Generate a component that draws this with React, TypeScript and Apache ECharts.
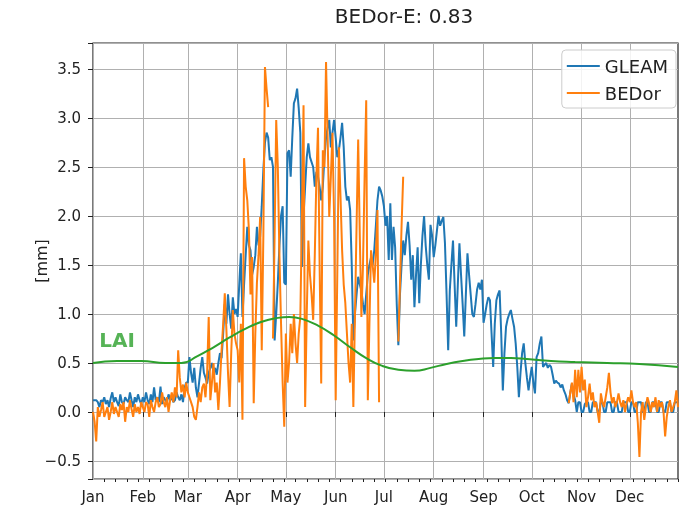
import React, { useEffect, useRef } from "react";
import * as echarts from "echarts";

const monthNames = ["Jan", "Feb", "Mar", "Apr", "May", "Jun", "Jul", "Aug", "Sep", "Oct", "Nov", "Dec"];
const monthLengths = [31, 28, 31, 30, 31, 30, 31, 31, 30, 31, 30, 31];

// GLEAM daily values [mm]
const gleamJan = [0.12,0.12,0.12,0.1,0.05,0.12,0.1,0.15,0.08,0.12,0.05,0.14,0.2,0.1,0.15,0.1,0.06,0.18,0.1,0.08,0.15,0.12,0.1,0.2,0.12,0.05,0.15,0.1,0.18,0.12,0.08];
const gleamFeb = [0.15,0.1,0.2,0.12,0.08,0.18,0.1,0.25,0.12,0.15,0.1,0.26,0.08,0.15,0.12,0.1,0.18,0.12,0.15,0.1,0.12,0.2,0.15,0.12,0.18,0.1,0.25,0.3];
const gleamMar = [0.3,0.56,0.4,0.3,0.45,0.25,0.15,0.3,0.45,0.56,0.4,0.35,0.29,0.4,0.45,0.5,0.4,0.45,0.38,0.5,0.6,0.55,0.8,1.1,0.9,1.2,1.0,0.85,1.17,1.0,1.05];
const gleamApr = [0.97,1.3,1.62,0.97,1.3,1.6,1.89,1.7,1.65,1.4,1.48,1.6,1.89,1.7,1.79,2.1,2.47,2.75,2.85,2.8,2.57,2.6,2.5,0.73,1.0,1.32,1.7,2.0,2.1,1.32];
const gleamMay = [1.3,2.64,2.67,2.4,2.8,3.15,3.2,3.3,3.1,2.85,1.48,2.0,2.3,2.6,2.74,2.6,2.55,2.5,2.3,2.45,2.4,2.3,2.16,2.3,2.6,2.8,2.9,2.98,2.7,2.85,2.98];
const gleamJun = [2.8,2.6,2.67,2.8,2.95,2.7,2.3,2.16,2.2,2.06,1.5,0.73,1.0,1.2,1.38,1.3,1.24,1.1,1.0,1.2,1.4,1.5,1.58,1.5,1.65,1.9,2.16,2.3,2.26,2.2];
const gleamJul = [2.1,1.9,2.0,1.55,2.13,1.55,1.89,1.68,1.1,0.68,1.2,1.5,1.75,1.6,1.8,1.94,1.7,1.35,1.6,1.07,1.4,1.68,1.11,1.5,1.8,2.0,1.7,1.5,1.35,1.91,1.8];
const gleamAug = [1.58,1.7,1.85,2.0,1.9,1.95,1.99,1.72,1.2,0.63,1.24,1.5,1.75,1.3,0.87,1.3,1.72,1.4,1.1,0.77,1.2,1.62,1.4,1.2,1.0,0.97,1.1,1.25,1.32,1.25,1.35];
const gleamSep = [0.91,1.0,1.1,1.17,1.14,0.8,0.46,0.9,1.14,1.2,1.24,0.8,0.22,0.6,0.87,0.95,1.0,1.04,0.95,0.87,0.7,0.46,0.15,0.4,0.6,0.7,0.5,0.35,0.22,0.35];
const gleamOct = [0.46,0.3,0.19,0.56,0.6,0.7,0.77,0.46,0.48,0.5,0.45,0.48,0.46,0.38,0.29,0.32,0.3,0.29,0.25,0.28,0.22,0.18,0.12,0.09,0.2,0.29,0.18,0.12,0.0,0.1,0.1];
const gleamNov = [0.0,0.0,0.08,0.1,0.1,0.0,0.0,0.1,0.1,0.1,0.0,0.0,0.1,0.1,0.0,0.0,0.1,0.1,0.1,0.0,0.0,0.1,0.1,0.0,0.0,0.0,0.1,0.1,0.1,0.0];
const gleamDec = [0.0,0.1,0.1,0.0,0.0,0.1,0.1,0.1,0.0,0.0,0.1,0.1,0.0,0.0,0.1,0.1,0.1,0.0,0.0,0.1,0.1,0.0,0.0,0.1,0.1,0.1,0.0,0.0,0.1,0.1,0.1];

// BEDor daily values [mm] (null = no data)
const bedorJan = [0.0,-0.1,-0.3,0.05,-0.05,0.02,0.1,-0.05,0.0,0.05,-0.08,0.0,0.1,-0.02,0.05,0.0,-0.05,0.08,0.02,0.1,-0.1,0.05,0.0,0.12,0.03,-0.05,0.08,0.0,0.05,-0.02,0.1];
const bedorFeb = [0.05,0.0,0.1,0.08,-0.05,0.12,0.05,0.0,0.1,0.15,0.05,0.08,0.2,0.1,0.05,0.15,0.0,0.12,0.2,0.1,0.25,0.15,0.63,0.35,0.2,0.28,0.15,0.3];
const bedorMar = [0.2,0.15,0.1,0.05,-0.05,-0.08,0.05,0.2,0.1,0.25,0.29,0.15,0.4,0.97,0.12,0.3,0.5,0.2,0.3,0.02,0.3,0.63,0.9,1.21,0.84,0.4,0.05,0.6,1.04,0.8,0.7];
const bedorApr = [0.63,0.3,0.9,-0.08,2.59,2.3,2.16,1.86,1.2,1.58,0.09,0.8,1.32,1.6,1.99,0.63,1.8,3.52,3.3,3.11,null,null,0.75,1.8,2.98,2.5,1.6,0.9,0.3,-0.15];
const bedorMay = [0.8,0.3,0.5,0.9,0.6,1.0,0.7,0.5,0.8,0.97,2.0,3.13,0.05,1.0,1.75,1.4,1.2,0.94,1.6,2.4,2.9,1.5,0.29,2.67,2.5,3.57,2.8,1.99,2.4,2.85,2.0];
const bedorJun = [0.12,1.4,2.7,2.2,1.65,1.3,1.11,0.8,0.5,0.3,0.9,0.05,1.0,1.9,2.78,1.8,0.97,1.5,2.4,3.18,0.12,0.9,1.65,1.5,1.32,1.6,2.06,0.1,null,null];
const bedorJul = [null,null,null,null,null,null,null,null,null,0.72,1.3,1.9,2.4,null,null,null,null,null,null,null,null,null,null,null,null,null,null,null,null,null,null];
const bedorAug = [null,null,null,null,null,null,null,null,null,null,null,null,null,null,null,null,null,null,null,null,null,null,null,null,null,null,null,null,null,null,null];
const bedorSep = [null,null,null,null,null,null,null,null,null,null,null,null,null,null,null,null,null,null,null,null,null,null,null,null,null,null,null,null,null,null];
const bedorOct = [null,null,null,null,null,null,null,null,null,null,null,null,null,null,null,null,null,null,null,null,null,null,null,0.09,0.2,0.3,0.1,0.43,0.15,0.43,0.2];
const bedorNov = [0.46,0.22,0.33,0.05,0.15,0.29,0.12,0.2,0.05,0.1,0.0,-0.11,0.19,0.1,0.05,0.15,0.25,0.4,0.2,0.09,0.15,0.05,0.1,0.19,0.1,0.05,0.12,0.0,0.09,0.15];
const bedorDec = [0.1,0.22,0.1,0.05,0.1,-0.11,-0.46,0.0,0.1,-0.08,0.05,0.15,0.09,0.0,0.1,0.05,0.15,0.0,0.12,0.05,0.1,0.0,-0.25,-0.05,0.05,0.12,0.0,0.05,0.1,0.22,0.05];

// LAI (scaled), read at these day-of-year indices
const laiDays = [0,15,30,45,55,65,75,85,95,105,115,122,130,140,150,160,170,180,190,200,210,220,230,240,250,260,270,285,300,320,340,364];
const laiValues = [0.5,0.52,0.52,0.5,0.5,0.57,0.66,0.76,0.85,0.92,0.96,0.97,0.95,0.88,0.78,0.66,0.55,0.47,0.43,0.42,0.45,0.49,0.52,0.54,0.55,0.55,0.54,0.52,0.51,0.5,0.49,0.46];

const laiLabelDay = 15;
const laiLabelValue = 0.73;

const titleText = "BEDor-E: 0.83";
const yMin = -0.684;
const yMax = 3.765;

const FONT = "DejaVu Sans";
const TXT = "#222";

export default function App() {
  const ref = useRef<HTMLDivElement>(null);

  useEffect(() => {
    if (!ref.current) return;
    const chart = echarts.init(ref.current, null, { renderer: "svg" });

    const days: string[] = [];
    const monthStarts: number[] = [];
    let d = 0;
    monthLengths.forEach((len, m) => {
      monthStarts.push(d);
      for (let i = 0; i < len; i++) days.push(monthNames[m] + " " + (i + 1));
      d += len;
    });

    const gleam = [
      ...gleamJan, ...gleamFeb, ...gleamMar, ...gleamApr, ...gleamMay, ...gleamJun,
      ...gleamJul, ...gleamAug, ...gleamSep, ...gleamOct, ...gleamNov, ...gleamDec,
    ];
    const bedor = [
      ...bedorJan, ...bedorFeb, ...bedorMar, ...bedorApr, ...bedorMay, ...bedorJun,
      ...bedorJul, ...bedorAug, ...bedorSep, ...bedorOct, ...bedorNov, ...bedorDec,
    ];
    const lai = laiDays.map((dd, i) => [dd, laiValues[i]]);

    const isMonthStart = (i: number) => monthStarts.indexOf(i) >= 0;

    const fmtY = (v: number) => {
      const r = Math.round(v * 2) / 2;
      if (Math.abs(r - v) > 1e-6) return "";
      const s = Math.abs(r).toFixed(1);
      return r < 0 ? "\u2212" + s : s;
    };

    chart.setOption({
      animation: false,
      title: {
        text: titleText,
        left: 404,
        textAlign: "center",
        top: 6,
        padding: 0,
        textStyle: { fontFamily: FONT, fontSize: 20, fontWeight: "normal", color: TXT },
      },
      legend: {
        data: [
          { name: "GLEAM", icon: "rect" },
          { name: "BEDor", icon: "rect" },
        ],
        orient: "vertical",
        right: 14,
        top: 50,
        itemWidth: 33,
        itemHeight: 2,
        itemGap: 7,
        padding: [6, 8, 5, 5],
        backgroundColor: "rgba(255,255,255,0.85)",
        borderColor: "#cccccc",
        borderWidth: 1,
        borderRadius: 4,
        textStyle: { fontFamily: FONT, fontSize: 18, color: TXT, lineHeight: 20 },
      },
      grid: {
        left: 93,
        right: 12,
        top: 43,
        bottom: 28,
        show: true,
        borderColor: "#222",
        borderWidth: 1.2,
        backgroundColor: "transparent",
      },
      xAxis: [
        {
          type: "category",
          data: days,
          boundaryGap: false,
          position: "bottom",
          axisLine: { show: false },
          axisTick: {
            show: true,
            interval: (i: number) => isMonthStart(i),
            length: 5,
            lineStyle: { color: TXT, width: 1 },
          },
          axisLabel: {
            interval: (i: number) => isMonthStart(i),
            formatter: (v: string) => v.split(" ")[0],
            fontFamily: FONT,
            fontSize: 15,
            color: TXT,
            margin: 10,
          },
          splitLine: {
            show: true,
            interval: (i: number) => isMonthStart(i),
            lineStyle: { color: "#b0b0b0", width: 1 },
          },
        },
        {
          type: "category",
          data: days,
          boundaryGap: false,
          position: "bottom",
          axisLine: { show: false },
          axisLabel: { show: false },
          splitLine: { show: false },
          axisTick: {
            show: true,
            interval: (i: number) => i % 7 === 0 && !isMonthStart(i),
            length: 3,
            lineStyle: { color: TXT, width: 1 },
          },
        },
      ],
      yAxis: {
        type: "value",
        min: yMin,
        max: yMax,
        splitNumber: 8,
        name: "[mm]",
        nameLocation: "middle",
        nameGap: 44,
        nameMoveOverlap: false,
        nameTextStyle: { fontFamily: FONT, fontSize: 16, color: TXT },
        axisLine: { show: false },
        axisTick: { show: true, length: 5, lineStyle: { color: TXT, width: 1 } },
        axisLabel: {
          formatter: fmtY,
          fontFamily: FONT,
          fontSize: 15,
          color: TXT,
          margin: 12,
        },
        splitLine: { show: true, lineStyle: { color: "#b0b0b0", width: 1 } },
      },
      series: [
        {
          name: "GLEAM",
          type: "line",
          xAxisIndex: 0,
          data: gleam,
          symbol: "none",
          connectNulls: false,
          lineStyle: { color: "#1f77b4", width: 2 },
          itemStyle: { color: "#1f77b4" },
          z: 2,
        },
        {
          name: "BEDor",
          type: "line",
          xAxisIndex: 0,
          data: bedor,
          symbol: "none",
          connectNulls: false,
          lineStyle: { color: "#ff7f0e", width: 2 },
          itemStyle: { color: "#ff7f0e" },
          z: 3,
        },
        {
          name: "LAI",
          type: "line",
          xAxisIndex: 0,
          data: lai,
          symbol: "none",
          smooth: 0.5,
          lineStyle: { color: "#2ca02c", width: 2 },
          itemStyle: { color: "#2ca02c" },
          z: 4,
        },
        {
          name: "LAI label",
          type: "scatter",
          xAxisIndex: 0,
          data: [[laiLabelDay, laiLabelValue]],
          symbolSize: 1,
          itemStyle: { color: "rgba(0,0,0,0)" },
          label: {
            show: true,
            position: "inside",
            formatter: "LAI",
            fontFamily: FONT,
            fontSize: 20,
            fontWeight: "bold",
            color: "#2ca02c",
          },
          z: 5,
        },
      ],
    });

    return () => chart.dispose();
  }, []);

  return (
    <div
      ref={ref}
      style={{ position: "fixed", left: 0, top: 0, width: 690, height: 507 }}
    />
  );
}
